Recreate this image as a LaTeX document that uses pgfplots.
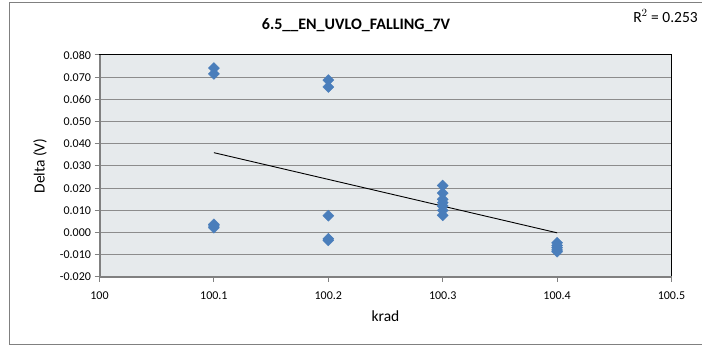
\documentclass[border=0pt]{standalone}
\usepackage{pgfplots}
\pgfplotsset{compat=1.18}
\usepackage{fontspec}
\setmainfont{Carlito}
\definecolor{bg}{RGB}{230,234,236}
\definecolor{gridc}{RGB}{140,140,140}
\definecolor{ptc}{RGB}{74,126,187}
\definecolor{axc}{RGB}{128,128,128}
\begin{document}
\begin{tikzpicture}
\path[use as bounding box] (0pt,0pt) rectangle (702pt,348pt);
\draw[color=axc, line width=1pt] (9.5pt,3pt) rectangle (705pt,345pt);
\begin{axis}[
  at={(99.5pt,71pt)}, anchor=south west,
  scale only axis, width=572pt, height=222pt,
  xmin=100, xmax=100.5, ymin=-0.02, ymax=0.08,
  xtick={100,100.1,100.2,100.3,100.4,100.5},
  xticklabels={100,100.1,100.2,100.3,100.4,100.5},
  ytick={-0.02,-0.01,0,0.01,0.02,0.03,0.04,0.05,0.06,0.07,0.08},
  yticklabels={-0.020,-0.010,0.000,0.010,0.020,0.030,0.040,0.050,0.060,0.070,0.080},
  scaled x ticks=false, scaled y ticks=false,
  axis background/.style={fill=bg},
  ymajorgrids, grid style={gridc, line width=1pt},
  axis line style={black, line width=1pt},
  tick style={axc, line width=1pt},
  tick align=outside, major tick length=5pt,
  xtick pos=left, ytick pos=left,
  ticklabel style={font=\fontsize{12}{14}\selectfont, text=black},
  xticklabel style={yshift=-6pt},
  clip=false,
]
\addplot[only marks, mark=square*, mark size=3.9pt, mark options={rotate=45, fill=ptc, draw=ptc}] coordinates {
(100.1,0.0741) (100.1,0.0715) (100.1,0.0037) (100.1,0.003) (100.1,0.0022)
(100.2,0.0687) (100.2,0.0656) (100.2,0.0076) (100.2,-0.0028) (100.2,-0.0035)
(100.3,0.0212) (100.3,0.0178) (100.3,0.0150) (100.3,0.0135) (100.3,0.0120) (100.3,0.0100) (100.3,0.0078)
(100.4,-0.0046) (100.4,-0.0058) (100.4,-0.0068) (100.4,-0.0078) (100.4,-0.0086)
};
\addplot[black, line width=0.9pt, mark=none] coordinates {(100.1,0.0360) (100.4,-0.0001)};
\draw[axc, line width=2pt] (rel axis cs:0,1) -- (rel axis cs:0,0) -- (rel axis cs:1,0);
\end{axis}
\node[font=\fontsize{16}{18}\selectfont\bfseries] at (356pt,323pt) {6.5\_\_EN\_UVLO\_FALLING\_7V};
\node[font=\fontsize{15.5}{18}\selectfont, rotate=90] at (40pt,182pt) {Delta (V)};
\node[font=\fontsize{15.5}{18}\selectfont] at (385.5pt,32pt) {krad};
\node[font=\fontsize{15.5}{18}\selectfont] at (665.5pt,332pt) {R$^2$ = 0.253};
\end{tikzpicture}
\end{document}
